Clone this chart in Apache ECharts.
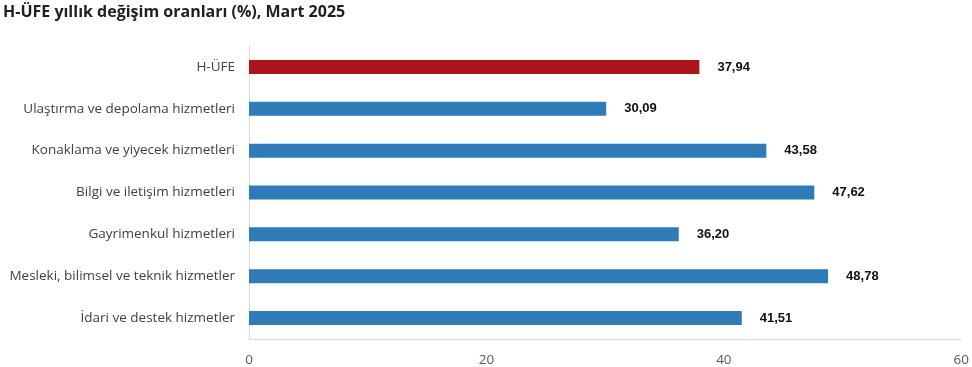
<!DOCTYPE html>
<html><head><meta charset="utf-8">
<script src="https://cdn.jsdelivr.net/npm/echarts@6/dist/echarts.min.js"></script>
<style>html,body{margin:0;padding:0;background:#fff}#c{width:972px;height:367px}</style>
</head><body><div id="c"></div>
<script>
const categories = ["H-ÜFE","Ulaştırma ve depolama hizmetleri","Konaklama ve yiyecek hizmetleri","Bilgi ve iletişim hizmetleri","Gayrimenkul hizmetleri","Mesleki, bilimsel ve teknik hizmetler","İdari ve destek hizmetler"];
const values = [37.94,30.09,43.58,47.62,36.20,48.78,41.51];
const highlight = [true,false,false,false,false,false,false];
const chart = echarts.init(document.getElementById('c'));
chart.setOption({
  animation:false,
  title:{text:"H-ÜFE yıllık değişim oranları (%), Mart 2025",left:3,top:4,padding:0,textStyle:{fontFamily:"Open Sans",fontWeight:"bold",fontSize:16,color:"#1f1f1f"}},
  grid:{left:249,right:8,top:46,bottom:28,containLabel:false},
  xAxis:{type:'value',min:0,max:60,interval:20,
    axisLine:{show:false},axisTick:{show:false},
    splitLine:{show:false},
    axisLabel:{fontFamily:"Open Sans",fontSize:13.5,color:"#595959",margin:14}},
  yAxis:{type:'category',inverse:true,data:categories,
    axisLine:{show:true,lineStyle:{color:"#d9d9d9"}},axisTick:{show:false},
    axisLabel:{fontFamily:"Open Sans",fontSize:13.5,color:"#404040",margin:14}},
  series:[{type:'bar',barWidth:14,
    data:values.map((v,i)=>({value:v,itemStyle:{color:highlight[i]?"#ab141b":"#2e7bb8"}})),
    label:{show:true,position:'right',distance:18,fontFamily:"Liberation Sans",fontWeight:"bold",fontSize:13,color:"#111",
      formatter:p=>p.value.toFixed(2).replace('.',',')}},
    {type:'line',data:[],markLine:{silent:true,symbol:'none',label:{show:false},lineStyle:{color:"#d9d9d9",type:'solid',width:1},data:[[{coord:[0,6],y:339},{coord:[60,6],y:339}]]}}
  ]
});
</script></body></html>
